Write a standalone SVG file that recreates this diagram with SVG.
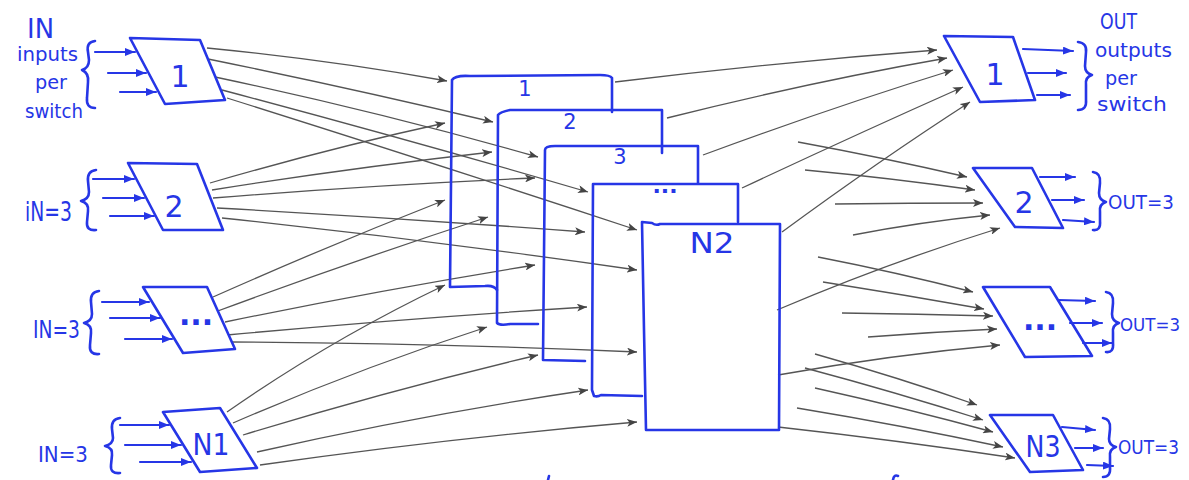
<svg xmlns="http://www.w3.org/2000/svg" width="1189" height="480" viewBox="0 0 1189 480">
  <style>
    .pen { fill: none; stroke: #2636e6; stroke-width: 2.6; stroke-linejoin: round; stroke-linecap: round; }
    .sw { fill: #ffffff; stroke: #2636e6; stroke-width: 2.6; stroke-linejoin: round; }
    .io { fill: none; stroke: #2636e6; stroke-width: 2.2; stroke-linecap: round; marker-end: url(#blueHead); }
    .wire { fill: none; stroke: #555555; stroke-width: 1.3; marker-end: url(#greyHead); }
    .hand { font-family: "DejaVu Sans", "Liberation Sans", sans-serif; fill: #2636e6; }
    .lbl { font-size: 30px; text-anchor: middle; }
  </style>
  <defs>
    <marker id="greyHead" viewBox="0 0 10 8" refX="10" refY="4" markerWidth="10" markerHeight="8" markerUnits="userSpaceOnUse" orient="auto">
      <path d="M0,0 L10,4 L0,8 L2.5,4 Z" fill="#444444"/>
    </marker>
    <marker id="blueHead" viewBox="0 0 10 8" refX="10" refY="4" markerWidth="10" markerHeight="8" markerUnits="userSpaceOnUse" orient="auto">
      <path d="M0,0 L10,4 L0,8 Z" fill="#2636e6"/>
    </marker>
  </defs>

  <!-- wiring between the stages -->
  <g id="connectors">
    <!-- ingress switch 1 to the middle stage -->
    <path class="wire" d="M207,48 Q330,60 447,81"/>
    <path class="wire" d="M208,59 Q350,88 493,122"/>
    <path class="wire" d="M215,77 Q380,112 538,157"/>
    <path class="wire" d="M222,90 Q410,140 588,192"/>
    <path class="wire" d="M227,98 Q440,165 637,230"/>
    <!-- ingress switch 2 -->
    <path class="wire" d="M210,183 Q330,148 445,123"/>
    <path class="wire" d="M212,190 Q350,168 492,152"/>
    <path class="wire" d="M213,198 Q375,185 535,178"/>
    <path class="wire" d="M217,208 Q400,218 585,232"/>
    <path class="wire" d="M222,218 Q430,240 637,270"/>
    <!-- ingress switch ... -->
    <path class="wire" d="M213,297 Q330,245 445,200"/>
    <path class="wire" d="M215,312 Q350,262 488,217"/>
    <path class="wire" d="M225,322 Q380,290 535,265"/>
    <path class="wire" d="M227,335 Q410,318 587,307"/>
    <path class="wire" d="M230,342 Q430,343 637,352"/>
    <!-- ingress switch N1 -->
    <path class="wire" d="M227,412 Q330,340 445,285"/>
    <path class="wire" d="M233,423 Q360,368 487,327"/>
    <path class="wire" d="M243,435 Q390,390 538,355"/>
    <path class="wire" d="M257,452 Q420,415 588,390"/>
    <path class="wire" d="M260,465 Q450,438 637,422"/>

    <!-- middle stage to egress switch 1 -->
    <path class="wire" d="M615,82 Q780,62 937,50"/>
    <path class="wire" d="M667,118 Q810,82 947,58"/>
    <path class="wire" d="M703,155 Q830,108 953,70"/>
    <path class="wire" d="M742,188 Q855,135 963,87"/>
    <path class="wire" d="M782,232 Q880,160 970,102"/>
    <!-- to egress switch 2 -->
    <path class="wire" d="M798,142 Q885,158 967,177"/>
    <path class="wire" d="M805,170 Q890,178 975,190"/>
    <path class="wire" d="M835,204 Q910,203 983,203"/>
    <path class="wire" d="M853,235 Q920,222 990,215"/>
    <path class="wire" d="M777,310 Q890,262 1000,228"/>
    <!-- to egress switch ... -->
    <path class="wire" d="M818,257 Q895,272 973,292"/>
    <path class="wire" d="M823,282 Q905,295 984,309"/>
    <path class="wire" d="M842,313 Q918,314 993,316"/>
    <path class="wire" d="M868,337 Q933,332 997,329"/>
    <path class="wire" d="M778,375 Q890,355 1000,345"/>
    <!-- to egress switch N3 -->
    <path class="wire" d="M815,354 Q900,378 977,405"/>
    <path class="wire" d="M805,368 Q895,392 983,420"/>
    <path class="wire" d="M815,388 Q905,408 993,432"/>
    <path class="wire" d="M797,408 Q900,425 1003,447"/>
    <path class="wire" d="M778,427 Q895,440 1015,458"/>
  </g>

  <!-- ingress switch 1 with its input label -->
  <g id="in-switch-1">
    <polygon class="sw" points="130,38 200,40 225,100 165,104"/>
    <text class="hand lbl" x="180" y="87">1</text>
    <path class="io" d="M95,52 L135,52"/>
    <path class="io" d="M108,73 L146,73"/>
    <path class="io" d="M120,92 L156,92"/>
    <path class="pen" d="M95,41 Q86,42 88,52 L89,60 Q89,68 82,70 Q89,73 88,82 L87,98 Q86,108 95,108"/>
    <text class="hand" x="27" y="38" font-size="27" textLength="27" lengthAdjust="spacingAndGlyphs">IN</text>
    <text class="hand" x="17" y="61" font-size="20" textLength="61" lengthAdjust="spacingAndGlyphs">inputs</text>
    <text class="hand" x="35" y="89" font-size="20" textLength="32" lengthAdjust="spacingAndGlyphs">per</text>
    <text class="hand" x="25" y="118" font-size="20" textLength="58" lengthAdjust="spacingAndGlyphs">switch</text>
  </g>

  <!-- ingress switch 2 -->
  <g id="in-switch-2">
    <polygon class="sw" points="128,163 197,164 223,230 163,230"/>
    <text class="hand lbl" x="174" y="217" font-size="34">2</text>
    <path class="io" d="M93,179 L134,179"/>
    <path class="io" d="M103,198 L144,198"/>
    <path class="io" d="M110,216 L154,216"/>
    <path class="pen" d="M96,170 Q87,171 88,181 L89,192 Q89,199 81,201 Q89,203 88,211 L87,222 Q86,231 96,230"/>
    <text class="hand" x="25" y="221" font-size="26" textLength="47" lengthAdjust="spacingAndGlyphs">iN=3</text>
  </g>

  <!-- ingress switch ... -->
  <g id="in-switch-dots">
    <polygon class="sw" points="143,287 207,287 235,349 183,353"/>
    <text class="hand lbl" x="196" y="325" font-weight="bold" font-size="26">...</text>
    <path class="io" d="M102,302 L149,302"/>
    <path class="io" d="M110,318 L160,318"/>
    <path class="io" d="M125,339 L172,339"/>
    <path class="pen" d="M99,291 Q90,292 91,302 L92,314 Q92,321 84,323 Q92,325 91,333 L90,345 Q89,355 99,354"/>
    <text class="hand" x="33" y="338" font-size="24" textLength="47" lengthAdjust="spacingAndGlyphs">IN=3</text>
  </g>

  <!-- ingress switch N1 -->
  <g id="in-switch-N1">
    <polygon class="sw" points="163,412 220,408 257,468 200,472"/>
    <text class="hand lbl" x="211" y="455" font-size="28" textLength="37" lengthAdjust="spacingAndGlyphs">N1</text>
    <path class="io" d="M120,425 L169,425"/>
    <path class="io" d="M125,445 L181,445"/>
    <path class="io" d="M140,462 L191,462"/>
    <path class="pen" d="M120,418 Q111,419 112,429 L113,438 Q113,444 105,446 Q113,448 112,455 L111,465 Q110,474 120,473"/>
    <text class="hand" x="38" y="462" font-size="22" textLength="50" lengthAdjust="spacingAndGlyphs">IN=3</text>
  </g>

  <!-- middle stage: stacked switches, front one last -->
  <g id="mid-switch-1">
    <path class="pen" d="M612,112 L612,78 Q610,75 600,75 L470,76 Q455,75 452,80 L450,287 L485,286 Q494,285 497,290"/>
    <text class="hand" x="525" y="96" font-size="21" text-anchor="middle">1</text>
  </g>
  <g id="mid-switch-2">
    <path class="pen" d="M662,153 L662,110 L510,110 Q500,112 498,115 L497,323 Q500,326 510,324 L538,324"/>
    <text class="hand" x="570" y="129" font-size="21" text-anchor="middle">2</text>
  </g>
  <g id="mid-switch-3">
    <path class="pen" d="M698,183 L698,146 L555,146 Q545,146 545,150 L543,360 L585,361"/>
    <text class="hand" x="620" y="164" font-size="21" text-anchor="middle">3</text>
  </g>
  <g id="mid-switch-dots">
    <path class="pen" d="M738,222 L738,184 L593,184 L592,390 L594,396 Q598,397 601,395 L642,396"/>
    <text class="hand" x="665" y="193" font-size="22" font-weight="bold" text-anchor="middle">...</text>
  </g>
  <g id="mid-switch-N2">
    <path class="pen" d="M642,222 L652,223 Q656,226 660,224 L780,224 L779,430 L646,430 L644,330 Z"/>
    <text class="hand" x="712" y="253" font-size="28" text-anchor="middle" textLength="45" lengthAdjust="spacingAndGlyphs">N2</text>
  </g>

  <!-- egress switch 1 with its output label -->
  <g id="out-switch-1">
    <polygon class="sw" points="944,36 1013,37 1035,100 980,102"/>
    <text class="hand lbl" x="995" y="85">1</text>
    <path class="io" d="M1023,49 L1073,51"/>
    <path class="io" d="M1028,73 L1066,73"/>
    <path class="io" d="M1037,95 L1070,95"/>
    <path class="pen" d="M1078,42 Q1087,43 1086,52 L1085,66 Q1085,73 1092,75 Q1085,77 1086,85 L1086,100 Q1087,110 1078,110"/>
    <text class="hand" x="1100" y="29" font-size="21" textLength="37" lengthAdjust="spacingAndGlyphs">OUT</text>
    <text class="hand" x="1095" y="57" font-size="19" textLength="77" lengthAdjust="spacingAndGlyphs">outputs</text>
    <text class="hand" x="1105" y="85" font-size="19" textLength="32" lengthAdjust="spacingAndGlyphs">per</text>
    <text class="hand" x="1097" y="111" font-size="19" textLength="70" lengthAdjust="spacingAndGlyphs">switch</text>
  </g>

  <!-- egress switch 2 -->
  <g id="out-switch-2">
    <polygon class="sw" points="973,168 1032,168 1063,228 1015,227"/>
    <text class="hand lbl" x="1024" y="213">2</text>
    <path class="io" d="M1040,177 L1075,177"/>
    <path class="io" d="M1052,200 L1084,200"/>
    <path class="io" d="M1063,220 L1094,222"/>
    <path class="pen" d="M1093,172 Q1101,173 1100,183 L1099,193 Q1099,200 1106,202 Q1099,204 1100,212 L1100,221 Q1101,231 1093,230"/>
    <text class="hand" x="1108" y="209" font-size="20" textLength="66" lengthAdjust="spacingAndGlyphs">OUT=3</text>
  </g>

  <!-- egress switch ... -->
  <g id="out-switch-dots">
    <polygon class="sw" points="983,287 1050,287 1092,356 1025,357"/>
    <text class="hand lbl" x="1040" y="330" font-weight="bold" font-size="26">...</text>
    <path class="io" d="M1058,300 L1095,301"/>
    <path class="io" d="M1070,323 L1102,323"/>
    <path class="io" d="M1083,343 L1112,343"/>
    <path class="pen" d="M1106,292 Q1114,293 1113,303 L1112,314 Q1112,321 1119,323 Q1112,325 1113,333 L1113,343 Q1114,353 1106,352"/>
    <text class="hand" x="1120" y="331" font-size="18" textLength="60" lengthAdjust="spacingAndGlyphs">OUT=3</text>
  </g>

  <!-- egress switch N3 -->
  <g id="out-switch-N3">
    <polygon class="sw" points="990,415 1053,415 1083,470 1030,472"/>
    <text class="hand lbl" x="1043" y="457" font-size="26" textLength="35" lengthAdjust="spacingAndGlyphs">N3</text>
    <path class="io" d="M1062,427 L1095,430"/>
    <path class="io" d="M1075,448 L1103,448"/>
    <path class="io" d="M1087,465 L1113,466"/>
    <path class="pen" d="M1103,418 Q1111,419 1110,429 L1109,439 Q1109,445 1116,447 Q1109,449 1110,457 L1110,467 Q1111,477 1103,477"/>
    <text class="hand" x="1118" y="454" font-size="20" textLength="61" lengthAdjust="spacingAndGlyphs">OUT=3</text>
  </g>

  <!-- stray pen marks along the bottom edge -->
  <path class="pen" d="M548,480 L549,476" stroke-width="1.5"/>
  <path class="pen" d="M893,480 Q894,474 898,476" stroke-width="1.5"/>
</svg>
